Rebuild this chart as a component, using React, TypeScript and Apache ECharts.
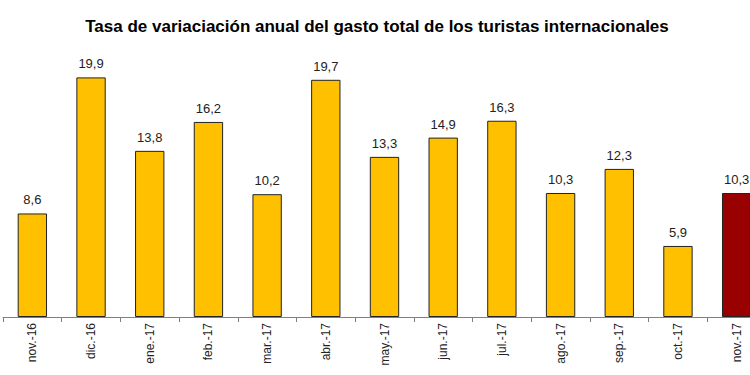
import React, { useEffect, useRef } from "react";
import * as echarts from "echarts";

const categories = [
  "nov.-16", "dic.-16", "ene.-17", "feb.-17", "mar.-17", "abr.-17", "may.-17",
  "jun.-17", "jul.-17", "ago.-17", "sep.-17", "oct.-17", "nov.-17",
];
const values = [8.6, 19.9, 13.8, 16.2, 10.2, 19.7, 13.3, 14.9, 16.3, 10.3, 12.3, 5.9, 10.3];
const highlightIndex = 12;
const titleText = "Tasa de variaciación anual del gasto total de los turistas internacionales";

export default function App() {
  const ref = useRef<HTMLDivElement>(null);
  useEffect(() => {
    if (!ref.current) return;
    const chart = echarts.init(ref.current, undefined, { renderer: "svg" });
    chart.setOption({
      animation: false,
      backgroundColor: "#ffffff",
      title: {
        text: titleText,
        left: 372,
        textAlign: "center",
        top: 13,
        textStyle: {
          fontFamily: "Liberation Sans, Arial, sans-serif",
          fontSize: 17,
          fontWeight: "bold",
          color: "#000000",
        },
      },
      grid: { left: 3, top: 16, right: 0, height: 301, containLabel: false },
      xAxis: {
        type: "category",
        data: categories,
        boundaryGap: true,
        axisLine: { lineStyle: { color: "#7f7f7f", width: 1 } },
        axisTick: { show: true, length: 5, lineStyle: { color: "#7f7f7f" } },
        axisLabel: {
          rotate: 90,
          interval: 0,
          margin: 6,
          fontFamily: "Liberation Sans, Arial, sans-serif",
          fontSize: 12,
          color: "#222222",
        },
      },
      yAxis: {
        type: "value",
        min: 0,
        max: 25,
        show: false,
        splitLine: { show: false },
      },
      series: [
        {
          type: "bar",
          barWidth: "50%",
          data: values.map((v, i) => ({
            value: v,
            itemStyle: {
              color: i === highlightIndex ? "#990000" : "#FFC000",
              borderColor: "#222222",
              borderWidth: 1,
            },
          })),
          label: {
            show: true,
            position: "top",
            distance: 7,
            fontFamily: "Liberation Sans, Arial, sans-serif",
            fontSize: 13,
            color: "#222222",
            formatter: (p: any) => String(p.value.toFixed(1)).replace(".", ","),
          },
        },
      ],
    });
    return () => chart.dispose();
  }, []);
  return (
    <div
      style={{
        position: "fixed",
        left: 0,
        top: 0,
        width: 750,
        height: 375,
        overflow: "hidden",
        background: "#ffffff",
      }}
    >
      <div ref={ref} style={{ width: 766, height: 375 }} />
    </div>
  );
}
